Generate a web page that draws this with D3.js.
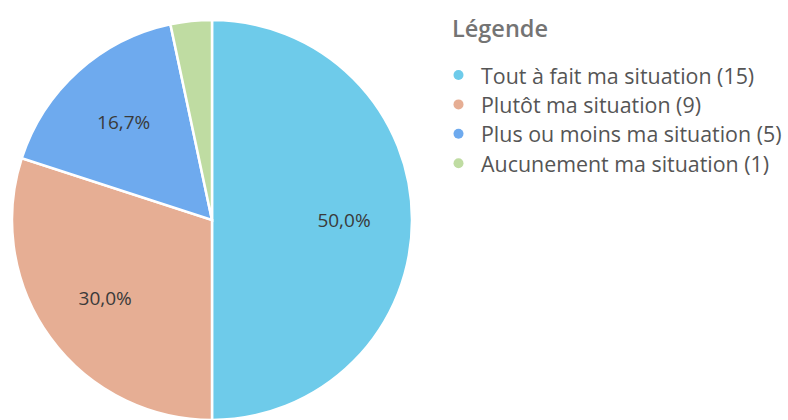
<!DOCTYPE html>
<html>
<head>
<meta charset="utf-8">
<script src="https://cdn.jsdelivr.net/npm/d3@7"></script>
<style>
  html, body { margin: 0; padding: 0; background: #ffffff; }
  svg { display: block; }
</style>
</head>
<body>
<svg id="chart" width="788" height="420"></svg>
<script>
// Survey answers
const categories = [
  "Tout à fait ma situation",
  "Plutôt ma situation",
  "Plus ou moins ma situation",
  "Aucunement ma situation"
];
const counts = [15, 9, 5, 1];
const colors = ["#6ecbea", "#e6ae94", "#6eaaee", "#bfdca2"];
const legendTitle = "Légende";

const svg = d3.select("#chart");
const cx = 212, cy = 220, radius = 200;
const fontFamily = "'Open Sans', 'Noto Sans', sans-serif";

const total = d3.sum(counts);
const data = categories.map((c, i) => ({ label: c, value: counts[i], color: colors[i] }));

const pie = d3.pie().value(d => d.value).sort(null);
const arc = d3.arc().innerRadius(0).outerRadius(radius);
const labelArc = d3.arc().innerRadius(radius * 0.66).outerRadius(radius * 0.66);

const g = svg.append("g").attr("transform", `translate(${cx},${cy})`);
const arcs = pie(data);

g.selectAll("path.slice")
  .data(arcs)
  .join("path")
  .attr("class", "slice")
  .attr("d", arc)
  .attr("fill", d => d.data.color)
  .attr("stroke", "#ffffff")
  .attr("stroke-width", 2.5);

const fmt = v => (v * 100).toFixed(1).replace(".", ",") + "%";

g.selectAll("text.pct")
  .data(arcs.filter(d => d.data.value / total > 0.05))
  .join("text")
  .attr("class", "pct")
  .attr("transform", d => `translate(${labelArc.centroid(d)})`)
  .attr("text-anchor", "middle")
  .attr("dominant-baseline", "central")
  .attr("font-family", fontFamily)
  .attr("font-size", 19)
  .attr("fill", "#3a3a3a")
  .text(d => fmt(d.data.value / total));

// Legend
const legend = svg.append("g").attr("transform", "translate(452,0)");
legend.append("text")
  .attr("x", 0)
  .attr("y", 37)
  .attr("font-family", fontFamily)
  .attr("font-size", 23.5)
  .attr("font-weight", 600)
  .attr("fill", "#747474")
  .text(legendTitle);

const rows = legend.selectAll("g.item")
  .data(data)
  .join("g")
  .attr("class", "item")
  .attr("transform", (d, i) => `translate(0,${75 + i * 29.4})`);

rows.append("circle")
  .attr("cx", 6.5)
  .attr("cy", 0)
  .attr("r", 5)
  .attr("fill", d => d.color);

rows.append("text")
  .attr("x", 29)
  .attr("y", 0)
  .attr("dominant-baseline", "central")
  .attr("font-family", fontFamily)
  .attr("font-size", 21.4)
  .attr("fill", "#555555")
  .text(d => `${d.label} (${d.value})`);
</script>
</body>
</html>
